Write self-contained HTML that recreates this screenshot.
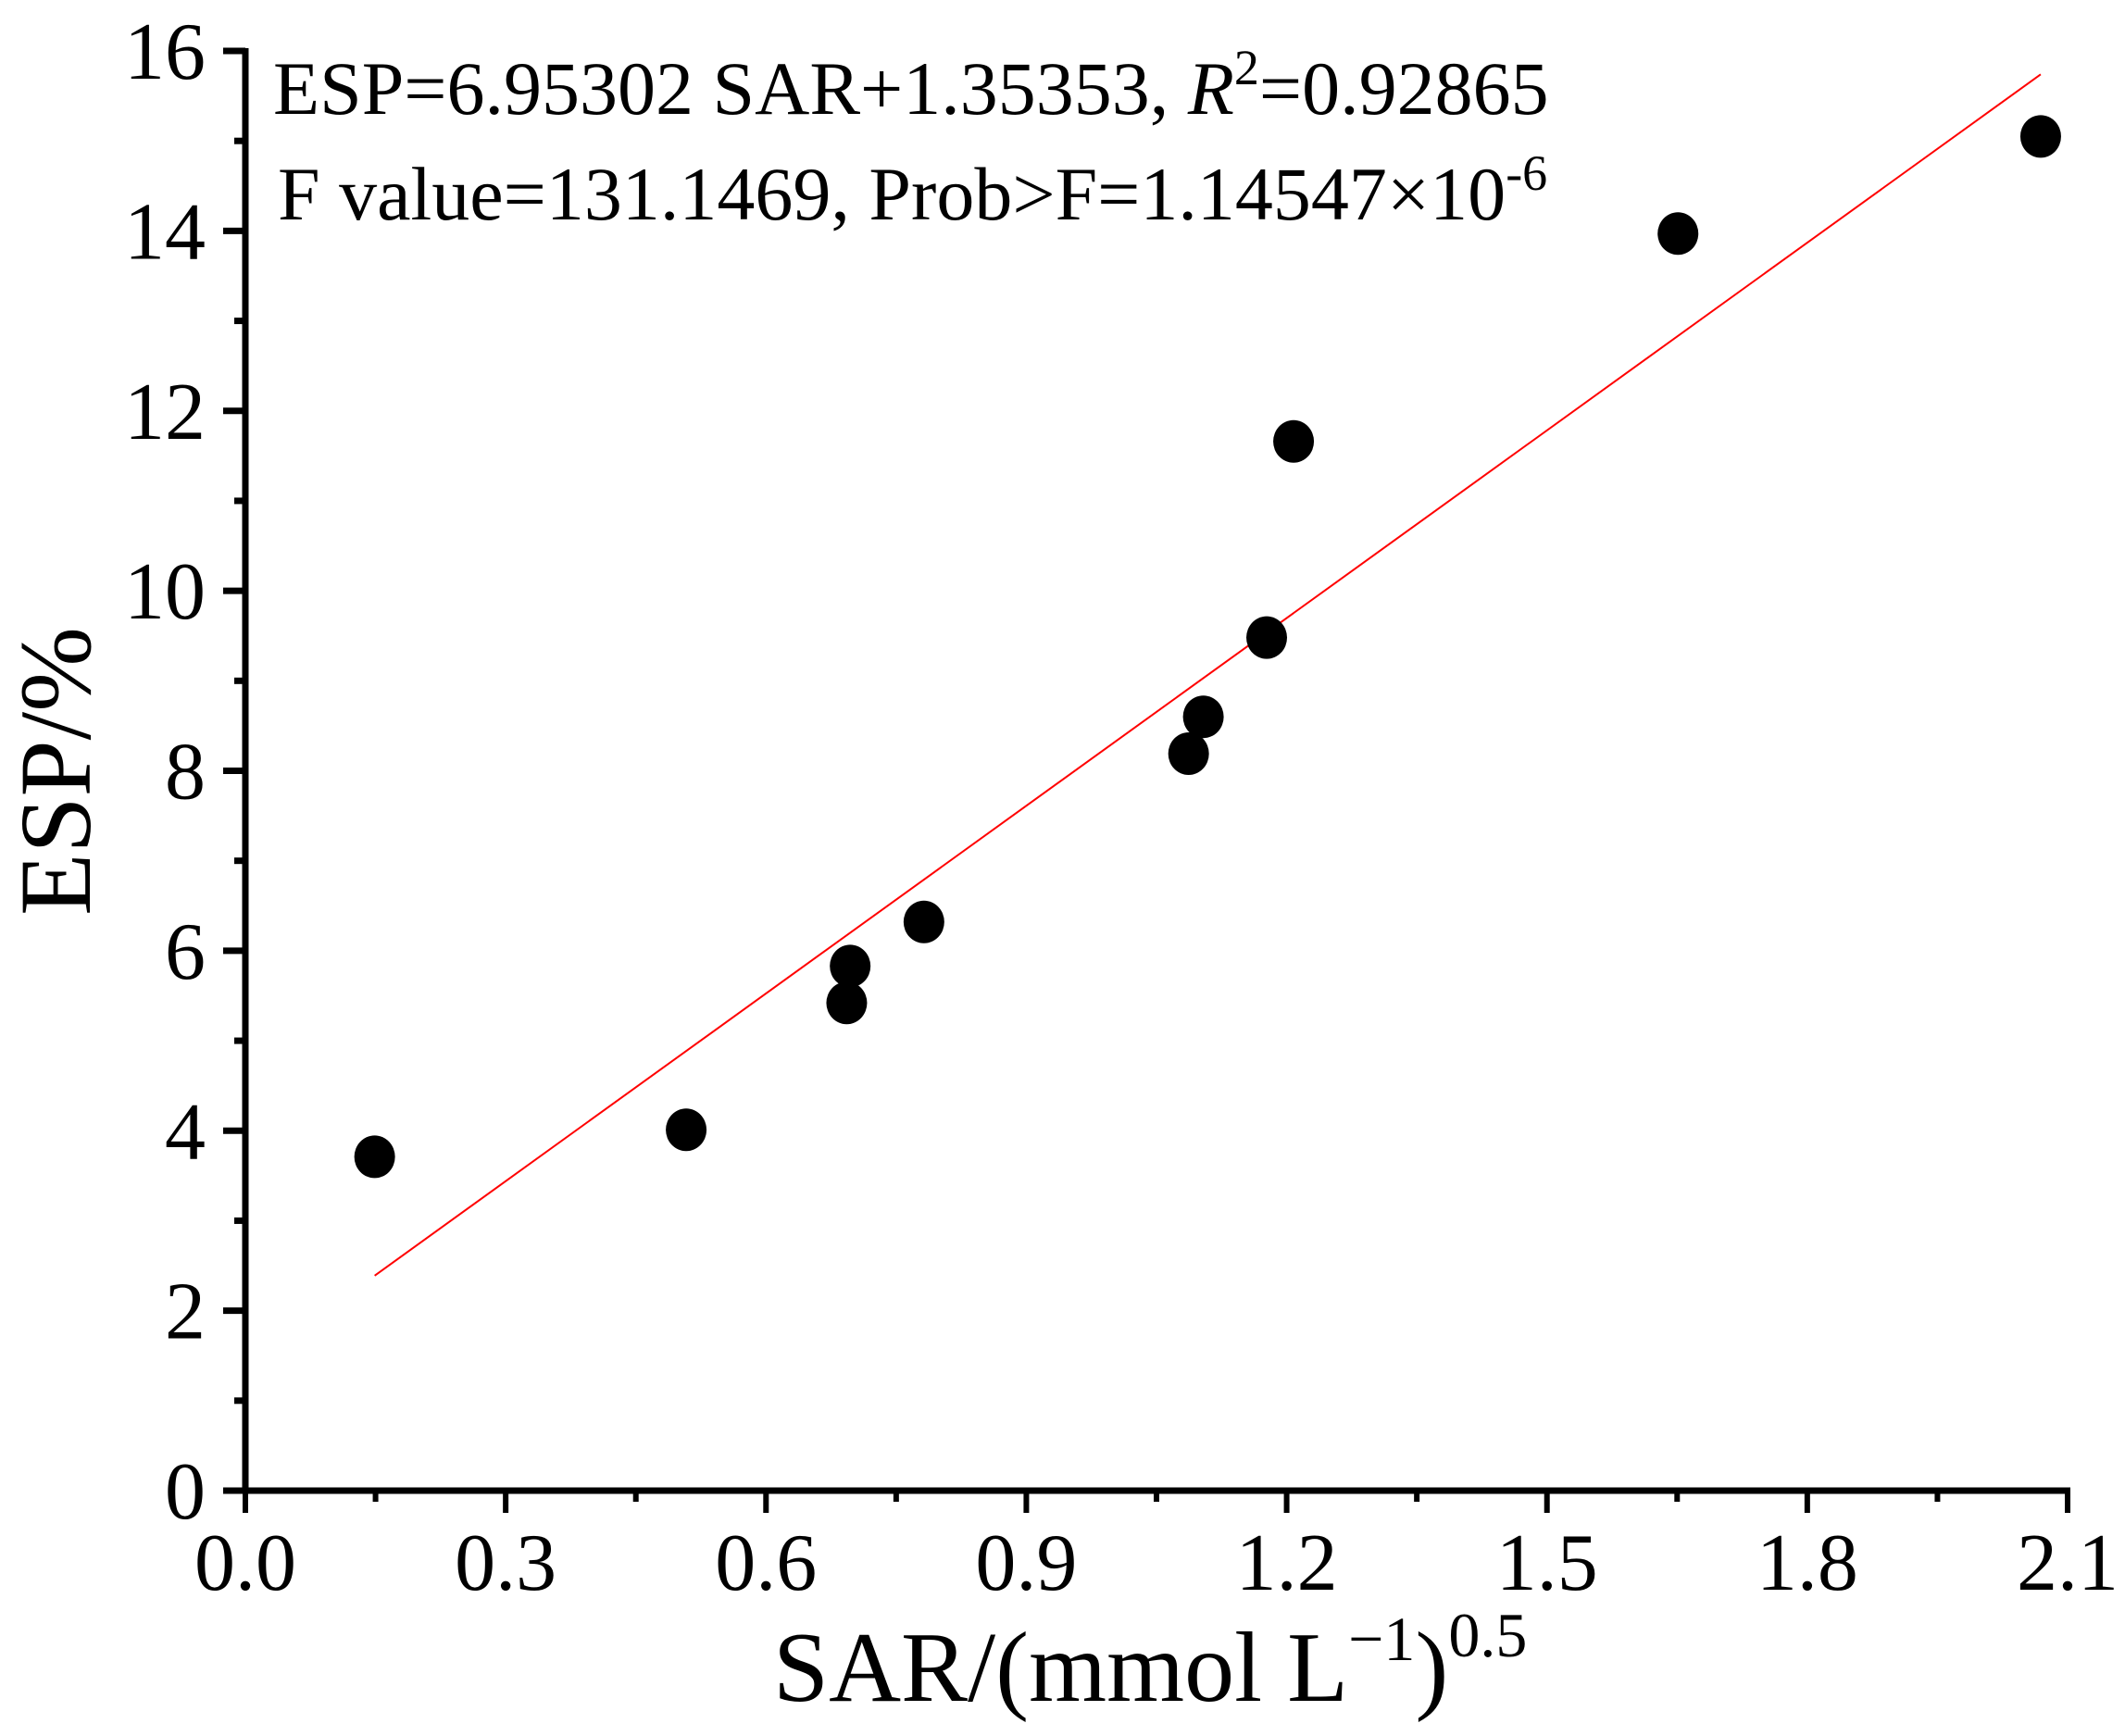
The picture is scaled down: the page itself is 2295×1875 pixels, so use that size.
<!DOCTYPE html>
<html><head><meta charset="utf-8"><style>
html,body{margin:0;padding:0;background:#fff;}
svg{display:block;font-family:"Liberation Serif","Times New Roman",serif;}
</style></head><body>
<svg id="chart" width="2295" height="1875" viewBox="0 0 2295 1875" xmlns="http://www.w3.org/2000/svg">
<g id="axes"></g>
<g id="marks"></g>
<g>
<text transform="translate(295,123)" font-size="82">ESP=6.95302 SAR+1.35353, <tspan font-style="italic">R</tspan><tspan font-size="54" dy="-32">2</tspan><tspan dy="32">=0.92865</tspan></text>
<text transform="translate(300,237)" font-size="82">F value=131.1469, Prob&gt;F=1.14547×10<tspan font-size="54" dy="-32">-6</tspan></text>
</g>
<text transform="translate(835,1837)" font-size="108">SAR/(mmol L<tspan font-size="68" dy="-44">−1</tspan><tspan dy="44">)</tspan><tspan font-size="68" dy="-48">0.5</tspan></text>
<text transform="translate(97,833) rotate(-90)" font-size="110" text-anchor="middle">ESP/%</text>
</svg>
<script>
const sarValues=[0.149,0.508,0.693,0.697,0.782,1.087,1.104,1.177,1.208,1.651,2.069];
const espValues=[3.71,4.01,5.42,5.83,6.32,8.19,8.60,9.48,11.66,13.97,15.05];
const fitSlope=6.95302;
const fitIntercept=1.35353;
const xTickLabels=["0.0","0.3","0.6","0.9","1.2","1.5","1.8","2.1"];
const yTickLabels=["0","2","4","6","8","10","12","14","16"];
const NS="http://www.w3.org/2000/svg";
const X0=265,X1=2233,Y0=1610,Y1=55;
const xMin=0,xMax=2.1,yMin=0,yMax=16;
function sx(v){return X0+(v-xMin)/(xMax-xMin)*(X1-X0);}
function sy(v){return Y0-(v-yMin)/(yMax-yMin)*(Y0-Y1);}
function mk(tag,attrs,parent){const e=document.createElementNS(NS,tag);for(const k in attrs)e.setAttribute(k,attrs[k]);parent.appendChild(e);return e;}
const axes=document.getElementById('axes');
const marks=document.getElementById('marks');
let yl=mk('line',{x1:X0,y1:Y1-3,x2:X0,y2:Y0+3,stroke:'#000','stroke-width':7},axes);


let xl=mk('line',{x1:X0-3,y1:Y0,x2:X1+3,y2:Y0,stroke:'#000','stroke-width':7},axes);


xTickLabels.forEach((lab,i)=>{
  const v=parseFloat(lab);const x=sx(v);
  let t=mk('line',{x1:x,y1:Y0,x2:x,y2:Y0+24,stroke:'#000','stroke-width':6},axes);
  
  
  let tx=mk('text',{transform:`translate(${x},1717)`,'font-size':88,'text-anchor':'middle'},axes);
  tx.textContent=lab;
  
  
  if(i<xTickLabels.length-1){
    const xm=sx(v+0.15);
    let m=mk('line',{x1:xm,y1:Y0,x2:xm,y2:Y0+12,stroke:'#000','stroke-width':6},axes);
    
    
  }
});
yTickLabels.forEach((lab,i)=>{
  const v=parseFloat(lab);const y=sy(v);
  let t=mk('line',{x1:X0-24,y1:y,x2:X0,y2:y,stroke:'#000','stroke-width':7},axes);
  
  
  let tx=mk('text',{transform:`translate(222,${y+30})`,'font-size':88,'text-anchor':'end'},axes);
  tx.textContent=lab;
  
  
  if(i<yTickLabels.length-1){
    const ym=sy(v+1);
    let m=mk('line',{x1:X0-12,y1:ym,x2:X0,y2:ym,stroke:'#000','stroke-width':7},axes);
    
    
  }
});
const fx0=Math.min(...sarValues),fx1=Math.max(...sarValues);
let fl=mk('line',{x1:sx(fx0),y1:sy(fitSlope*fx0+fitIntercept),x2:sx(fx1),y2:sy(fitSlope*fx1+fitIntercept),stroke:'#ff0000','stroke-width':2},marks);


sarValues.forEach((s,i)=>{
  let c=mk('ellipse',{cx:sx(s),cy:sy(espValues[i]),rx:22,ry:23,fill:'#000'},marks);
  
  
});
</script>
</body></html>
